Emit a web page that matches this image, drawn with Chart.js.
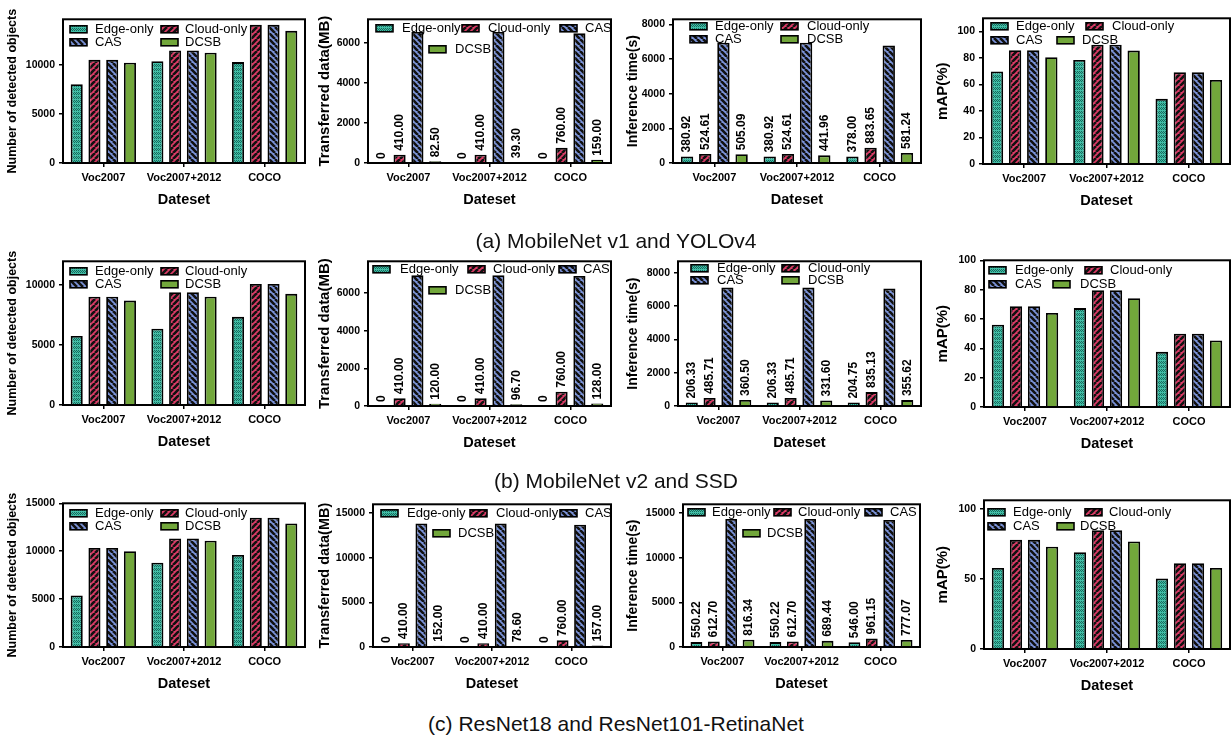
<!DOCTYPE html>
<html>
<head>
<meta charset="utf-8">
<script src="https://cdn.jsdelivr.net/npm/chart.js@4.4.0/dist/chart.umd.min.js"></script>
<style>
  body { margin: 0; width: 1232px; height: 740px; overflow: hidden; background: #fff; position: relative;
         font-family: "Liberation Sans", Arial, sans-serif; }
  canvas { position: absolute; }
  .cap { position: absolute; left: 0; width: 1232px; text-align: center; font-size: 21px; line-height: 24px; color: #111; z-index: 2; }
</style>
</head>
<body>
<div class="cap" style="top:229px">(a) MobileNet v1 and YOLOv4</div>
<div class="cap" style="top:469px">(b) MobileNet v2 and SSD</div>
<div class="cap" style="top:712px">(c) ResNet18 and ResNet101-RetinaNet</div>

<script>
// categories / series
const categories = ['Voc2007', 'Voc2007+2012', 'COCO'];
const seriesNames = ['Edge-only', 'Cloud-only', 'CAS', 'DCSB'];

// (a) MobileNet v1 and YOLOv4
const objA_edge = [8060, 10420, 10320];
const objA_cloud = [10550, 11520, 14130];
const objA_cas = [10550, 11520, 14130];
const objA_dcsb = [10260, 11290, 13520];
const dataA_edge = [0, 0, 0];
const dataA_cloud = [410, 410, 760];
const dataA_cas = [6560, 6560, 6500];
const dataA_dcsb = [82.5, 39.3, 159];
const timeA_edge = [380.92, 380.92, 378.00];
const timeA_cloud = [524.61, 524.61, 883.65];
const timeA_cas = [6950, 6950, 6780];
const timeA_dcsb = [505.09, 441.96, 581.24];
const mapA_edge = [69.9, 78.5, 49.2];
const mapA_cloud = [85.9, 90.1, 69.2];
const mapA_cas = [85.9, 90.1, 69.2];
const mapA_dcsb = [80.6, 85.6, 63.4];

// (b) MobileNet v2 and SSD
const objB_edge = [5760, 6370, 7360];
const objB_cloud = [9040, 9410, 10100];
const objB_cas = [9040, 9410, 10100];
const objB_dcsb = [8720, 9040, 9280];
const dataB_edge = [0, 0, 0];
const dataB_cloud = [410, 410, 760];
const dataB_cas = [6960, 6960, 6920];
const dataB_dcsb = [120, 96.7, 128];
const timeB_edge = [206.33, 206.33, 204.75];
const timeB_cloud = [485.71, 485.71, 835.13];
const timeB_cas = [7120, 7120, 7060];
const timeB_dcsb = [360.50, 331.60, 355.62];
const mapB_edge = [56.1, 67.4, 37.6];
const mapB_cloud = [68.7, 79.6, 50.0];
const mapB_cas = [68.7, 79.6, 50.0];
const mapB_dcsb = [64.1, 74.1, 45.4];

// (c) ResNet18 and ResNet101-RetinaNet
const objC_edge = [5370, 8800, 9600];
const objC_cloud = [10330, 11330, 13500];
const objC_cas = [10330, 11330, 13500];
const objC_dcsb = [10000, 11100, 12900];
const dataC_edge = [0, 0, 0];
const dataC_cloud = [410, 410, 760];
const dataC_cas = [13860, 13860, 13710];
const dataC_dcsb = [152, 78.6, 157];
const timeC_edge = [550.22, 550.22, 546.00];
const timeC_cloud = [612.70, 612.70, 961.15];
const timeC_cas = [14360, 14360, 14250];
const timeC_dcsb = [816.34, 689.44, 777.07];
const mapC_edge = [57.7, 69.0, 50.2];
const mapC_cloud = [77.8, 84.6, 61.1];
const mapC_cas = [77.8, 84.6, 61.1];
const mapC_dcsb = [72.9, 76.7, 57.7];

// y tick labels
const ticks_obj = [0, 5000, 10000];
const ticks_obj15 = [0, 5000, 10000, 15000];
const ticks_data = [0, 2000, 4000, 6000];
const ticks_time = [0, 2000, 4000, 6000, 8000];
const ticks_big = [0, 5000, 10000, 15000];
const ticks_map = [0, 20, 40, 60, 80, 100];
const ticks_map50 = [0, 50, 100];

const FONT = '"Liberation Sans", Arial, sans-serif';
Chart.defaults.font.family = FONT;
Chart.defaults.color = '#000';

// hatch patterns
function makePattern(kind) {
  const c = document.createElement('canvas');
  const g = c.getContext('2d');
  if (kind === 'edge') {
    c.width = 4; c.height = 4;
    g.fillStyle = '#41bea6'; g.fillRect(0, 0, 4, 4);
    g.fillStyle = '#186a5d';
    g.fillRect(0, 0, 1, 1); g.fillRect(1, 1, 1, 1); g.fillRect(2, 0, 1, 1); g.fillRect(3, 1, 1, 1);
    g.fillRect(1, 3, 1, 1); g.fillRect(3, 3, 1, 1);
  } else {
    const s = 6;
    c.width = s; c.height = s;
    g.fillStyle = kind === 'cloud' ? '#dc3b66' : '#7b93d9';
    g.fillRect(0, 0, s, s);
    g.strokeStyle = '#111'; g.lineWidth = 2.6;
    g.beginPath();
    for (let k = -s; k <= s; k += s) {
      if (kind === 'cloud') { g.moveTo(k, s); g.lineTo(k + s, 0); }
      else { g.moveTo(k, 0); g.lineTo(k + s, s); }
    }
    g.stroke();
  }
  return g.createPattern(c, 'repeat');
}
const fills = [makePattern('edge'), makePattern('cloud'), makePattern('cas'), '#72a73b'];

// column left edges (canvas) and panel settings
const colLeft = [5, 316, 625, 934];
const panels = [
  { col: 0, box: [63, 12, 305, 163], title: 'Number of detected objects', ts: 12.5, max: 14700, ticks: ticks_obj, vals: [objA_edge, objA_cloud, objA_cas, objA_dcsb], lab: false,
    leg: [[7, 10, 32], [98, 10, 122], [7, 23, 32], [98, 23, 122]] },
  { col: 1, box: [368, 12, 611, 163], title: 'Transferred data(MB)', ts: 15, max: 7200, ticks: ticks_data, vals: [dataA_edge, dataA_cloud, dataA_cas, dataA_dcsb], lab: true,
    leg: [[8, 9, 34], [94, 9, 120], [192, 9, 217], [61, 30, 87]] },
  { col: 2, box: [673, 12, 921, 163], title: 'Inference time(s)', ts: 14, max: 8300, ticks: ticks_time, vals: [timeA_edge, timeA_cloud, timeA_cas, timeA_dcsb], lab: true,
    leg: [[17, 7, 42], [108, 7, 134], [17, 20, 42], [108, 20, 134]] },
  { col: 3, box: [983, 11, 1230, 164], title: 'mAP(%)', ts: 15, max: 110, ticks: ticks_map, vals: [mapA_edge, mapA_cloud, mapA_cas, mapA_dcsb], lab: false,
    leg: [[8, 8, 33], [103, 8, 129], [8, 22, 33], [74, 22, 99]] },

  { col: 0, box: [63, 254, 305, 405], title: 'Number of detected objects', ts: 12.5, max: 12000, ticks: ticks_obj, vals: [objB_edge, objB_cloud, objB_cas, objB_dcsb], lab: false,
    leg: [[7, 10, 32], [98, 10, 122], [7, 23, 32], [98, 23, 122]] },
  { col: 1, box: [368, 254, 611, 406], title: 'Transferred data(MB)', ts: 15, max: 7700, ticks: ticks_data, vals: [dataB_edge, dataB_cloud, dataB_cas, dataB_dcsb], lab: true,
    leg: [[5, 8, 32], [100, 8, 125], [191, 8, 215], [61, 29, 87]] },
  { col: 2, box: [678, 254, 921, 406], title: 'Inference time(s)', ts: 14, max: 8700, ticks: ticks_time, vals: [timeB_edge, timeB_cloud, timeB_cas, timeB_dcsb], lab: true,
    leg: [[13, 7, 39], [104, 7, 130], [13, 19, 39], [104, 19, 130]] },
  { col: 3, box: [984, 253, 1230, 407], title: 'mAP(%)', ts: 15, max: 100, ticks: ticks_map, vals: [mapB_edge, mapB_cloud, mapB_cas, mapB_dcsb], lab: false,
    leg: [[5, 10, 31], [101, 10, 126], [5, 24, 31], [69, 24, 96]] },

  { col: 0, box: [63, 496, 305, 647], title: 'Number of detected objects', ts: 12.5, max: 15000, ticks: ticks_obj15, vals: [objC_edge, objC_cloud, objC_cas, objC_dcsb], lab: false,
    leg: [[7, 10, 32], [98, 10, 122], [7, 23, 32], [98, 23, 122]] },
  { col: 1, box: [373, 497, 611, 647], title: 'Transferred data(MB)', ts: 14.5, max: 16000, ticks: ticks_big, vals: [dataC_edge, dataC_cloud, dataC_cas, dataC_dcsb], lab: true,
    leg: [[8, 9, 34], [97, 9, 123], [187, 9, 212], [60, 29, 85]] },
  { col: 2, box: [683, 497, 920, 647], title: 'Inference time(s)', ts: 14, max: 16000, ticks: ticks_big, vals: [timeC_edge, timeC_cloud, timeC_cas, timeC_dcsb], lab: true,
    leg: [[5, 8, 29], [91, 8, 115], [182, 8, 207], [60, 29, 84]] },
  { col: 3, box: [984, 493, 1230, 649], title: 'mAP(%)', ts: 15, max: 106, ticks: ticks_map50, vals: [mapC_edge, mapC_cloud, mapC_cas, mapC_dcsb], lab: false,
    leg: [[4, 12, 29], [101, 12, 125], [4, 26, 29], [73, 26, 96]] }
];

// frame, value labels and legend
function decor(p) {
  return {
    id: 'decor',
    afterDatasetsDraw(chart) {
      const ctx = chart.ctx, a = chart.chartArea;
      ctx.save();
      if (p.lab) {
        ctx.font = 'bold 12px ' + FONT;
        ctx.fillStyle = '#000'; ctx.textAlign = 'left'; ctx.textBaseline = 'middle';
        chart.data.datasets.forEach((ds, i) => {
          if (i === 2) return;
          chart.getDatasetMeta(i).data.forEach((bar, j) => {
            const v = ds.data[j];
            ctx.save();
            ctx.translate(bar.x, bar.y - 4);
            ctx.rotate(-Math.PI / 2);
            ctx.fillText(v === 0 ? '0' : v.toFixed(2), 0, 0);
            ctx.restore();
          });
        });
      }
      ctx.font = '13px ' + FONT;
      p.leg.forEach((q, i) => {
        const ds = chart.data.datasets[i];
        const x = a.left + q[0], y = a.top + q[1];
        ctx.fillStyle = ds.backgroundColor;
        ctx.fillRect(x, y - 3.5, 17, 7);
        ctx.lineWidth = 1.6; ctx.strokeStyle = '#000';
        ctx.strokeRect(x, y - 3.5, 17, 7);
        ctx.fillStyle = '#000'; ctx.textAlign = 'left'; ctx.textBaseline = 'middle';
        ctx.fillText(ds.label, a.left + q[2], y);
      });
      ctx.restore();
    },
    afterDraw(chart) {
      const ctx = chart.ctx, a = chart.chartArea;
      ctx.save();
      ctx.lineWidth = 2; ctx.strokeStyle = '#000';
      ctx.strokeRect(a.left, a.top, a.right - a.left, a.bottom - a.top);
      ctx.restore();
    }
  };
}

panels.forEach((p) => {
  const [L, T, R, B] = p.box;
  const left = colLeft[p.col];
  const cv = document.createElement('canvas');
  cv.width = R - left + 2;
  cv.height = 3 + (B - T) + 48;
  cv.style.left = left + 'px';
  cv.style.top = (T - 3) + 'px';
  document.body.appendChild(cv);

  new Chart(cv, {
    type: 'bar',
    data: {
      labels: categories,
      datasets: seriesNames.map((n, i) => ({
        label: n,
        data: p.vals[i],
        backgroundColor: fills[i],
        borderColor: '#000',
        borderWidth: 1.8,
        categoryPercentage: 0.88,
        barPercentage: 0.68
      }))
    },
    options: {
      responsive: false,
      animation: false,
      layout: { padding: { top: 3, right: 2, left: 0, bottom: 0 } },
      plugins: { legend: { display: false }, tooltip: { enabled: false } },
      scales: {
        x: {
          grid: { offset: false, drawOnChartArea: false, drawTicks: true, tickLength: 4, color: '#000', lineWidth: 1.5 },
          border: { display: false },
          ticks: { font: { size: 11, weight: 'bold' }, color: '#000', maxRotation: 0, autoSkip: false, padding: 4 },
          title: { display: true, text: 'Dateset', font: { size: 14.5, weight: 'bold' }, color: '#000', padding: { top: 0, bottom: 2 } },
          afterFit: (s) => { s.height = 48; }
        },
        y: {
          min: 0,
          max: p.max,
          grid: { drawOnChartArea: false, tickLength: 4, color: '#000', lineWidth: 1.5 },
          border: { display: false },
          ticks: { font: { size: 10.5, weight: 'bold' }, color: '#000', padding: 4, callback: (v) => v },
          afterBuildTicks: (s) => { s.ticks = p.ticks.map((v) => ({ value: v })); },
          title: { display: true, text: p.title, font: { size: p.ts, weight: 'bold' }, color: '#000', padding: 0 },
          afterFit: (s) => { s.width = L - left; }
        }
      }
    },
    plugins: [decor(p)]
  });
});
</script>
</body>
</html>
